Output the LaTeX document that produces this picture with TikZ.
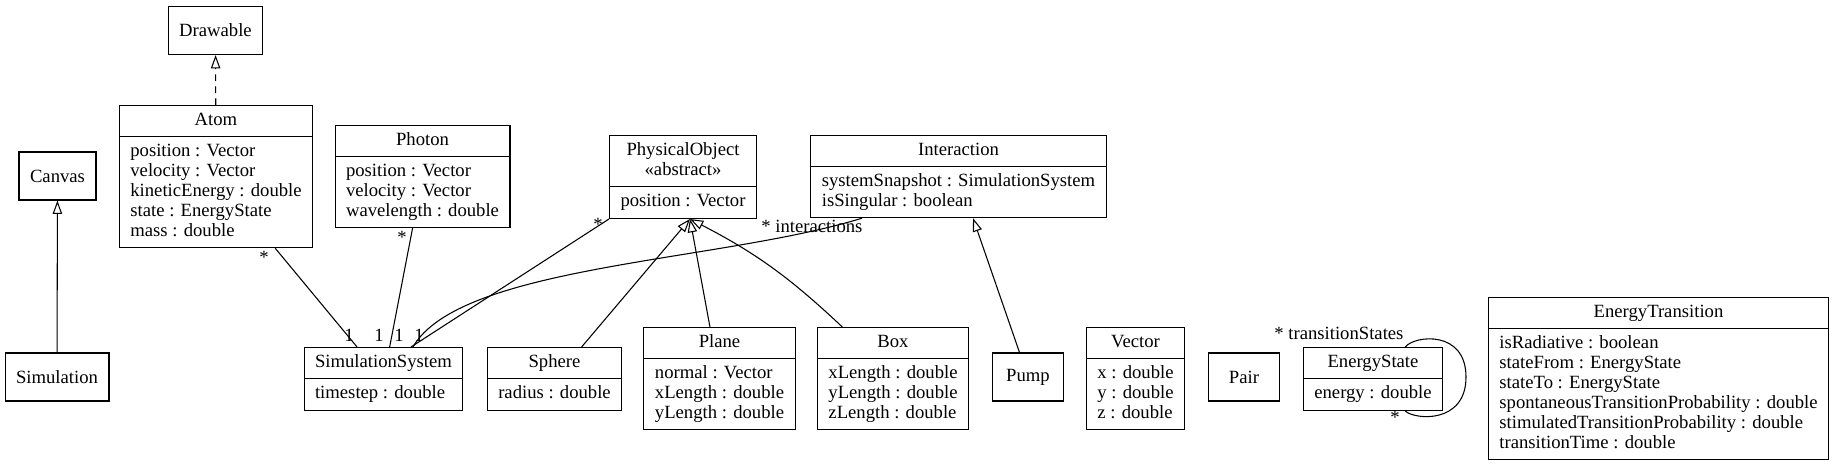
\documentclass[tikz,border=0pt]{standalone}
\usepackage{fontspec}
\setmainfont{Liberation Serif}
\usetikzlibrary{shapes.multipart,arrows.meta}

\newcommand{\attrs}[1]{\begin{tabular}{@{}l@{}}#1\end{tabular}}

\tikzset{
  umlbox/.style={draw, inner xsep=8.25pt, minimum height=36pt, minimum width=53pt},
  umlclass/.style={draw, rectangle split, rectangle split parts=2,
    rectangle split part align={center,left},
    inner xsep=8.25pt, inner ysep=3.75pt, execute at begin node=\strut},
  inherit/.style={-{Triangle[open,length=10pt,width=7pt]}},
  realize/.style={inherit, dash pattern=on 5pt off 4pt},
  mult/.style={anchor=base, inner sep=0pt}
}

\begin{document}
\begin{tikzpicture}[x=0.75pt, y=-0.75pt, line width=0.8pt, font=\fontsize{14}{15}\selectfont]
    \useasboundingbox (0,0) rectangle (1835,464);

    % classes
    \node[umlbox] (drawable) at (215.5,30.5) {Drawable};
    \node[umlclass, anchor=north] (atom) at (216,105) {Atom
      \nodepart{two}\attrs{position : Vector\\velocity : Vector\\kineticEnergy : double\\state : EnergyState\\mass : double}};
    \node[umlbox] (canvas) at (57.5,176) {Canvas};
    \node[umlbox] (simulation) at (57,377) {Simulation};
    \node[umlclass, anchor=north] (photon) at (422.5,125) {Photon
      \nodepart{two}\attrs{position : Vector\\velocity : Vector\\wavelength : double}};
    \node[umlclass, anchor=north] (po) at (683,135) {\begin{tabular}{@{}c@{}}PhysicalObject\\«abstract»\end{tabular}
      \nodepart{two}\attrs{position : Vector}};
    \node[umlclass, anchor=north] (interaction) at (958.5,135) {Interaction
      \nodepart{two}\attrs{systemSnapshot : SimulationSystem\\isSingular : boolean}};
    \node[umlclass, anchor=north] (ss) at (383.5,347) {SimulationSystem
      \nodepart{two}\attrs{timestep : double}};
    \node[umlclass, anchor=north] (sphere) at (554.5,347) {Sphere
      \nodepart{two}\attrs{radius : double}};
    \node[umlclass, anchor=north] (plane) at (719.5,327) {Plane
      \nodepart{two}\attrs{normal : Vector\\xLength : double\\yLength : double}};
    \node[umlclass, anchor=north] (box) at (893,327) {Box
      \nodepart{two}\attrs{xLength : double\\yLength : double\\zLength : double}};
    \node[umlbox] (pump) at (1028,377) {Pump};
    \node[umlclass, anchor=north] (vector) at (1135.5,327) {Vector
      \nodepart{two}\attrs{x : double\\y : double\\z : double}};
    \node[umlbox] (pair) at (1244,377) {Pair};
    \node[umlclass, anchor=north] (es) at (1373,347) {EnergyState
      \nodepart{two}\attrs{energy : double}};
    \node[umlclass, anchor=north] (et) at (1658.5,297) {EnergyTransition
      \nodepart{two}\attrs{isRadiative : boolean\\stateFrom : EnergyState\\stateTo : EnergyState\\spontaneousTransitionProbability : double\\stimulatedTransitionProbability : double\\transitionTime : double}};

    % generalisation
    \draw[realize] (atom) -- (drawable);
    \draw[inherit] (simulation) -- (canvas);
    \coordinate (po-tip) at ([xshift=5.25pt]po.south);
    \draw[inherit] (sphere) -- (po-tip);
    \draw[inherit] (plane) -- (po-tip);
    \draw[inherit] ([xshift=-38pt]box.north) to[bend right=8] (po-tip);
    \coordinate (int-tip) at ([xshift=10.9pt]interaction.south);
    \draw[inherit] (pump) -- (int-tip);

    % associations
    \draw (atom) -- (ss);
    \draw (photon) -- (ss);
    \draw (po.south west) -- ([xshift=20.6pt]ss.north);
    \draw ([xshift=22.1pt]ss.north) .. controls (460,265) and (720,262) .. ([xshift=-72.4pt]interaction.south);
    \draw ([xshift=-28.5pt]es.north east) .. controls (1415,335) and (1466,330) .. (1466,377)
      .. controls (1466,424) and (1415,420) .. ([xshift=-28.5pt]es.south east);

    % multiplicities
    \node[mult] (atom-many) at (264,263) {*};
    \node[mult] (ss-one-a) at (349,341) {1};
    \node[mult] (photon-many) at (402,243) {*};
    \node[mult] (ss-one-p) at (379,341) {1};
    \node[mult] (po-many) at (598,230) {*};
    \node[mult] (ss-one-o) at (399,341) {1};
    \node[mult, anchor=base east] (int-many) at (863,232) {* interactions};
    \node[mult] (ss-one-i) at (419,341) {1};
    \node[mult, anchor=base east] (es-many-a) at (1404,339) {* transitionStates};
    \node[mult] (es-many-b) at (1395,423.5) {*};
\end{tikzpicture}
\end{document}
